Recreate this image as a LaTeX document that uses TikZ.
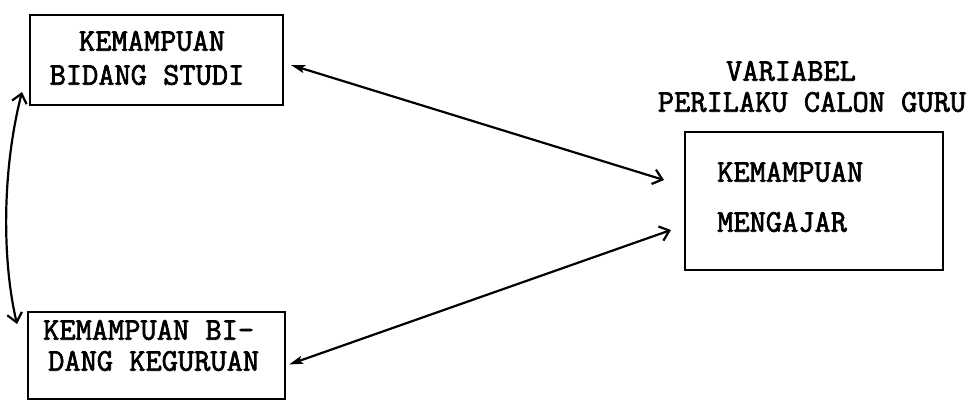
\documentclass[tikz,border=0pt]{standalone}
\usepackage{fontspec}
\newfontfamily\tw{Latin Modern Mono}[AutoFakeBold=2.2]
\usetikzlibrary{arrows.meta}
\begin{document}
\begin{tikzpicture}[x=1pt,y=-1pt,
  box/.style={draw,line width=2pt,minimum width=#1,inner sep=0pt,anchor=center},
  lbl/.style={font=\tw\bfseries\fontsize{31.5}{34}\selectfont,inner sep=0pt},
  conn/.style={line width=2.2pt},
  barb/.tip={Straight Barb[length=9pt,width=15pt]},
  wedge/.tip={Stealth[length=14pt,width=8pt,inset=3pt]}]
\useasboundingbox (0,0) rectangle (977,401);
% boxes
\node[box=253pt,minimum height=90pt] (b1) at (156.5,60) {};
\node[box=257pt,minimum height=87pt] (b2) at (156.5,355.5) {};
\node[box=258pt,minimum height=138pt] (b3) at (814,201) {};
% texts
\node[lbl] (t1a) at (152,41) {KEMAMPUAN};
\node[lbl] (t1b) at (147,75) {BIDANG STUDI};
\node[lbl,anchor=west] (t2a) at (43,330) {KEMAMPUAN BI-};
\node[lbl,anchor=west] (t2b) at (48,361) {DANG KEGURUAN};
\node[lbl,anchor=west] (t3a) at (717,172) {KEMAMPUAN};
\node[lbl,anchor=west] (t3b) at (717,222) {MENGAJAR};
\node[lbl] (h1) at (791,71) {VARIABEL};
\node[lbl] (h2) at (812,102) {PERILAKU CALON GURU};
% connector end points
\coordinate (a1s) at ([shift={(7,5)}]b1.east);
\coordinate (a1e) at ([shift={(-20,-21)}]b3.west);
\coordinate (a2s) at ([shift={(3,9)}]b2.east);
\coordinate (a2e) at ([shift={(-13,29)}]b3.west);
\coordinate (vs) at ([shift={(-7,-14)}]b1.south west);
\coordinate (ve) at ([shift={(-10,13)}]b2.north west);
% connectors
\draw[conn,wedge-barb] (a1s) -- (a1e);
\draw[conn,wedge-barb] (a2s) -- (a2e);
\draw[conn,barb-barb] (vs) .. controls (2,170) and (2,260) .. (ve);
\end{tikzpicture}
\end{document}
